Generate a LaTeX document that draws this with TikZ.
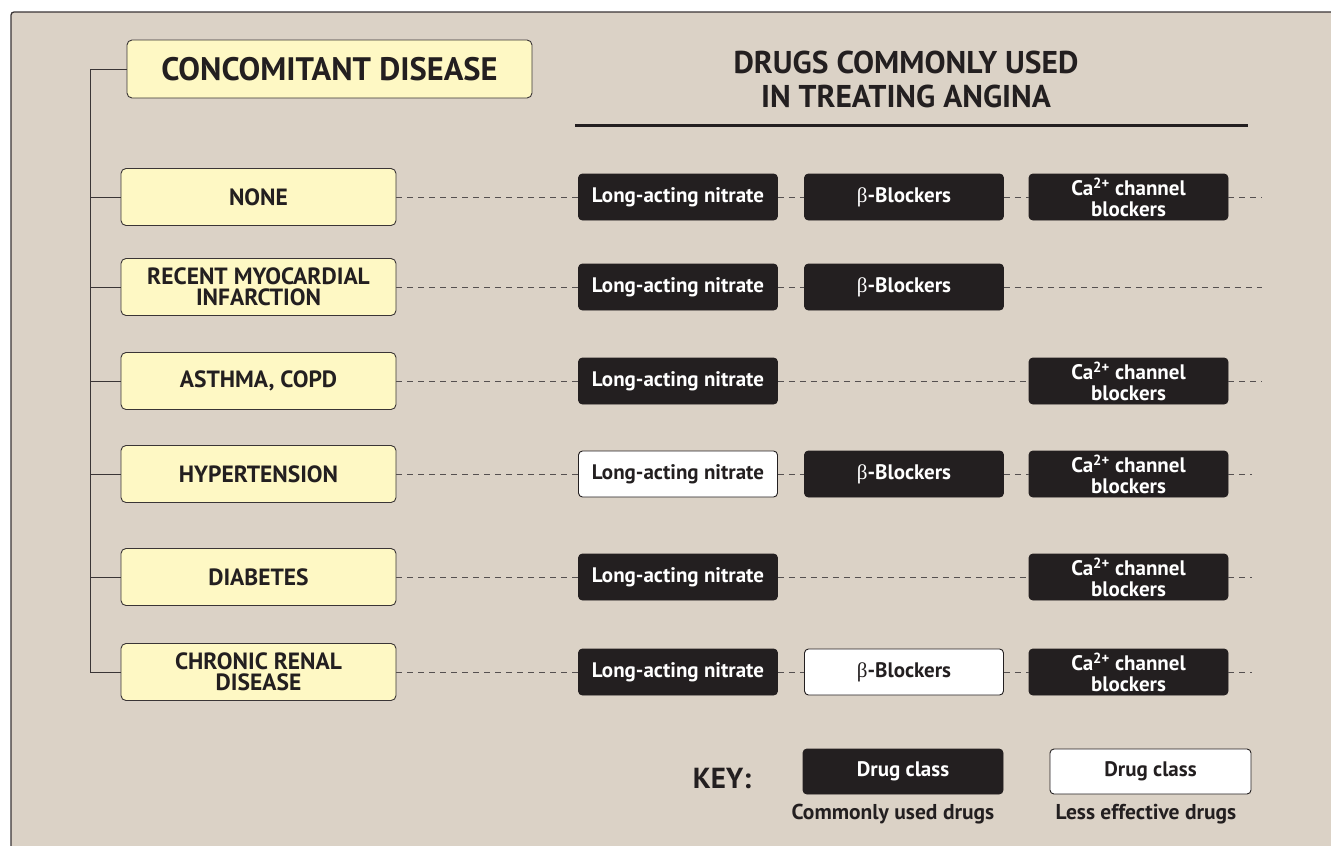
\documentclass[tikz,border=0pt]{standalone}
\usepackage{fontspec}
\setmainfont{PT Sans}
\newfontfamily\greekf{Liberation Serif}
\definecolor{bgc}{HTML}{DBD2C6}
\definecolor{yelc}{HTML}{FEF8C4}
\definecolor{blkc}{HTML}{231F20}
\definecolor{linec}{HTML}{3A3536}
\definecolor{dashc}{HTML}{555050}
\newcommand{\bet}{{\greekf\mdseries β}}
\newcommand{\caT}{Ca\textsuperscript{2+} channel\\blockers}
\tikzset{
  disease/.style={draw=linec, line width=0.9pt, fill=yelc, rounded corners=5pt,
    minimum width=275pt, minimum height=57pt, align=center, text=blkc,
    font=\bfseries\fontsize{23.5}{21.5}\selectfont, inner sep=2pt},
  drug/.style={draw=blkc, line width=0.9pt, fill=blkc, text=white, rounded corners=4pt,
    minimum width=199pt, minimum height=46pt, align=center,
    font=\bfseries\fontsize{21}{20.5}\selectfont, inner sep=1pt},
  drugw/.style={drug, fill=white, text=blkc},
  dline/.style={draw=dashc, line width=0.8pt, dash pattern=on 6pt off 5pt},
  tree/.style={draw=linec, line width=1pt},
}
\begin{document}
\begin{tikzpicture}[x=1pt,y=-1pt]
\useasboundingbox (0,0) rectangle (1331,846);
\clip (0,0) rectangle (1331,846);
\fill[white] (0,0) rectangle (1331,846);
\draw[linec, fill=bgc, line width=1.3pt, rounded corners=3pt] (11,12) rectangle (1360,880);

% title
\node[disease, minimum width=405pt, minimum height=58pt, font=\bfseries\fontsize{32.5}{34}\selectfont] (title) at (329.5,69) {CONCOMITANT DISEASE};
\node[font=\bfseries\fontsize{31.5}{34}\selectfont, align=center, text=blkc] (head) at (906,79) {DRUGS COMMONLY USED\\IN TREATING ANGINA};
\coordinate (rl) at (575,125);
\coordinate (rr) at (1248,125);
\draw[blkc, line width=3pt] (rl) -- (rr);

% disease boxes
\node[disease] (d1) at (258.5,197) {NONE};
\node[disease] (d2) at (258.5,287) {RECENT MYOCARDIAL\\INFARCTION};
\node[disease] (d3) at (258.5,381) {ASTHMA, COPD};
\node[disease] (d4) at (258.5,474) {HYPERTENSION};
\node[disease] (d5) at (258.5,577) {DIABETES};
\node[disease] (d6) at (258.5,672) {CHRONIC RENAL\\DISEASE};

% tree
\coordinate (t0) at (90,69);
\coordinate (t6) at (90,672);
\draw[tree] (title.west) -- (t0) -- (t6) -- (d6.west);
\foreach \i in {1,...,5} {\draw[tree] (d\i.west) -- (d\i.west -| t0);}

% drug boxes
\node[drug] (n1) at (678,197) {Long-acting nitrate};
\node[drug] (b1) at (904,197) {\bet-Blockers};
\node[drug] (c1) at (1128.5,197) {\caT};
\node[drug] (n2) at (678,287) {Long-acting nitrate};
\node[drug] (b2) at (904,287) {\bet-Blockers};
\node[drug] (n3) at (678,381) {Long-acting nitrate};
\node[drug] (c3) at (1128.5,381) {\caT};
\node[drugw] (n4) at (678,474) {Long-acting nitrate};
\node[drug] (b4) at (904,474) {\bet-Blockers};
\node[drug] (c4) at (1128.5,474) {\caT};
\node[drug] (n5) at (678,577) {Long-acting nitrate};
\node[drug] (c5) at (1128.5,577) {\caT};
\node[drug] (n6) at (678,672) {Long-acting nitrate};
\node[drugw] (b6) at (904,672) {\bet-Blockers};
\node[drug] (c6) at (1128.5,672) {\caT};

\coordinate (e1) at (1262,197);
\coordinate (e2) at (1262,287);
\coordinate (e3) at (1262,381);
\coordinate (e4) at (1252,474);
\coordinate (e5) at (1252,577);
\coordinate (e6) at (1252,672);

% dashed connectors
\draw[dline] (d1.east) -- (n1.west);
\draw[dline] (n1.east) -- (b1.west);
\draw[dline] (b1.east) -- (c1.west);
\draw[dline] (c1.east) -- (e1);
\draw[dline] (d2.east) -- (n2.west);
\draw[dline] (n2.east) -- (b2.west);
\draw[dline] (b2.east) -- (e2);
\draw[dline] (d3.east) -- (n3.west);
\draw[dline] (n3.east) -- (c3.west);
\draw[dline] (c3.east) -- (e3);
\draw[dline] (d4.east) -- (n4.west);
\draw[dline] (n4.east) -- (b4.west);
\draw[dline] (b4.east) -- (c4.west);
\draw[dline] (c4.east) -- (e4);
\draw[dline] (d5.east) -- (n5.west);
\draw[dline] (n5.east) -- (c5.west);
\draw[dline] (c5.east) -- (e5);
\draw[dline] (d6.east) -- (n6.west);
\draw[dline] (n6.east) -- (b6.west);
\draw[dline] (b6.east) -- (c6.west);
\draw[dline] (c6.east) -- (e6);

% key
\node[font=\bfseries\fontsize{29}{30}\selectfont, text=blkc] (key) at (722,778) {KEY:};
\node[drug, minimum width=200pt, minimum height=45pt] (kb) at (903,771.5) {Drug class};
\node[drugw, minimum width=201pt, minimum height=45pt] (kw) at (1150.5,771.5) {Drug class};
\node[font=\bfseries\fontsize{21.5}{22}\selectfont, text=blkc] (kbl) at (893,814) {Commonly used drugs};
\node[font=\bfseries\fontsize{21.5}{22}\selectfont, text=blkc] (kwl) at (1146,814) {Less effective drugs};
\end{tikzpicture}
\end{document}
